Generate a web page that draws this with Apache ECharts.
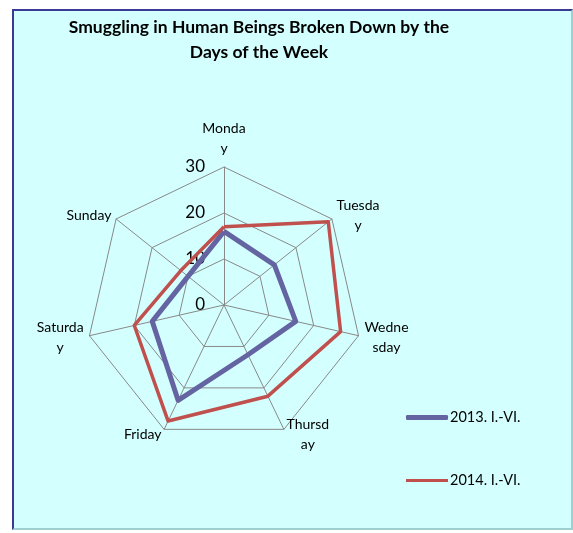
<!DOCTYPE html>
<html>
<head>
<meta charset="utf-8">
<script src="https://cdn.jsdelivr.net/npm/echarts@6/dist/echarts.min.js"></script>
<style>
  html, body { margin: 0; padding: 0; background: #fff; }
  #panel {
    position: absolute; left: 12px; top: 9px; width: 557px; height: 517px;
    background: #d4ffff;
    border-left: 2px solid #3b3b96; border-top: 2px solid #3b3b96;
    border-right: 2px solid #9fcfcf; border-bottom: 2px solid #9fcfcf;
  }
  #chart { position: absolute; left: 0; top: 0; width: 573px; height: 533px; }
</style>
</head>
<body>
<div id="panel"></div>
<div id="chart"></div>
<script>
// axis labels as they wrap in the picture
const days = ['Monda\ny', 'Tuesda\ny', 'Wedne\nsday', 'Thursd\nay', 'Friday', 'Saturda\ny', 'Sunday'];
const series2013 = [16, 14, 16, 12, 23, 16, 10];
const series2014 = [17, 29, 26, 22, 28, 20, 12];
const seriesNames = ['2013. I.-VI.', '2014. I.-VI.'];
const axisMax = 30;
const axisStep = 10;

// echarts radar runs counter-clockwise, the picture goes clockwise
const order = [0, 6, 5, 4, 3, 2, 1];
const reorder = arr => order.map(i => arr[i]);

const chart = echarts.init(document.getElementById('chart'));

const indicators = reorder(days).map((d, i) => {
  const ind = { name: d, min: 0, max: axisMax, interval: axisStep };
  // only the first spoke carries the value labels
  if (i === 0) ind.axisLabel = { show: true };
  return ind;
});

chart.setOption({
  backgroundColor: 'transparent',
  animation: false,
  title: {
    text: 'Smuggling in Human Beings Broken Down by the\nDays of the Week',
    left: 254,
    top: 10,
    textAlign: 'center',
    textStyle: {
      fontFamily: 'Lato',
      fontWeight: 'bold',
      fontSize: 17.5,
      lineHeight: 25,
      color: '#000'
    }
  },
  legend: {
    orient: 'vertical',
    left: 401,
    top: 405,
    itemGap: 48,
    itemWidth: 42,
    itemHeight: 5,
    textStyle: { fontFamily: 'Lato', fontSize: 14.5, color: '#000', padding: [0, 0, 0, -3] },
    data: [
      { name: seriesNames[0], icon: 'roundRect' },
      { name: seriesNames[1], icon: 'path://M0,0L0.01,0M0,1L42,1L42,4L0,4ZM0,5L0.01,5' }
    ]
  },
  radar: {
    center: [224, 305],
    radius: 138,
    startAngle: 90,
    shape: 'polygon',
    splitNumber: 3,
    indicator: indicators,
    nameGap: 6,
    axisName: {
      color: '#000',
      fontFamily: 'Lato',
      fontSize: 14,
      lineHeight: 20,
      formatter: (name) => name.split('\n').map(s => '{c|' + s + '}').join('\n'),
      rich: { c: { align: 'center', fontFamily: 'Lato', fontSize: 14, lineHeight: 20, color: '#000' } }
    },
    axisLabel: {
      show: false,
      margin: 19,
      color: '#000',
      fontFamily: 'Lato',
      fontSize: 17
    },
    axisLine: { lineStyle: { color: '#888', width: 1 } },
    splitLine: { lineStyle: { color: '#888', width: 1 } },
    splitArea: { show: false },
    axisTick: { show: false }
  },
  series: [{
    type: 'radar',
    symbol: 'none',
    data: [
      {
        name: seriesNames[0],
        value: reorder(series2013),
        lineStyle: { color: '#6464a2', width: 5 },
        itemStyle: { color: '#6464a2' }
      },
      {
        name: seriesNames[1],
        value: reorder(series2014),
        lineStyle: { color: '#c0504d', width: 3.5 },
        itemStyle: { color: '#c0504d' }
      }
    ]
  }]
});
</script>
</body>
</html>
